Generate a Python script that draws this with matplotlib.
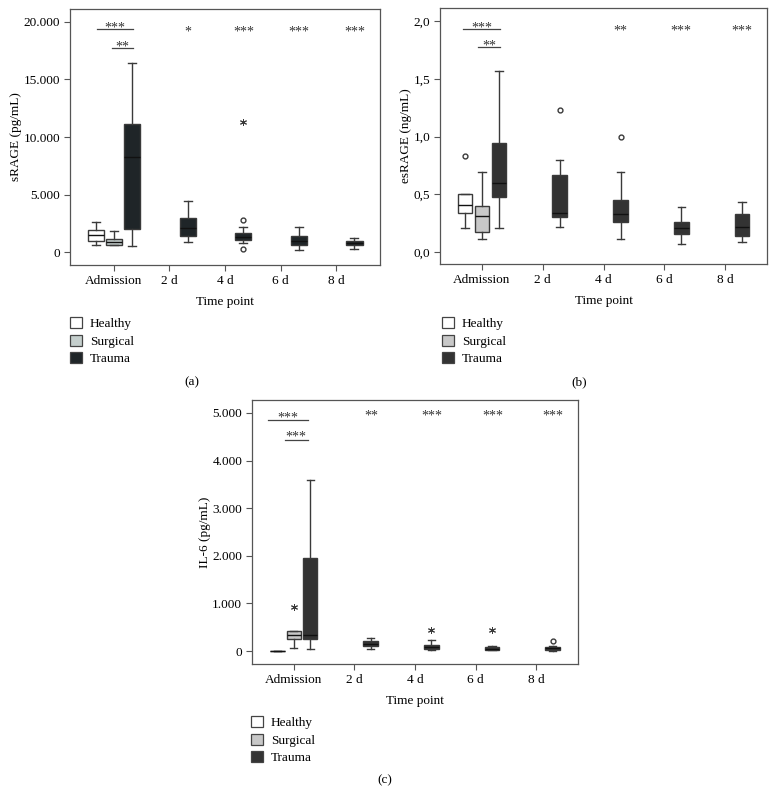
import numpy as np
import matplotlib
matplotlib.use("Agg")
from matplotlib import pyplot as plt
from matplotlib.patches import Patch

plt.rcParams["font.family"] = ["Liberation Serif", "DejaVu Serif"]

TIME_LABELS = ["Admission", "2 d", "4 d", "6 d", "8 d"]
GROUPS = ["Healthy", "Surgical", "Trauma"]

# box stats: [whislo, q1, med, q3, whishi]
# (a) sRAGE
A_HEALTHY = [600, 950, 1500, 1950, 2650]
A_SURGICAL = [600, 620, 850, 1100, 1800]
A_TRAUMA = [[520, 2000, 8250, 11100, 16450],
            [850, 1400, 2100, 3000, 4450],
            [750, 1050, 1300, 1650, 2150],
            [150, 650, 950, 1350, 2200],
            [250, 600, 750, 950, 1250]]
A_TRAUMA_OUT = [[], [], [2800, 250], [], []]
A_TRAUMA_EXT = [[], [], [11300], [], []]
A_SURG_EXT = []
A_TIME_SIG = ["", "*", "***", "***", "***"]
A_YTICKS = [0, 5000, 10000, 15000, 20000]
A_YTICKLABELS = ["0", "5.000", "10.000", "15.000", "20.000"]

# (b) esRAGE
B_HEALTHY = [0.21, 0.34, 0.41, 0.50, 0.50]
B_HEALTHY_OUT = [0.83]
B_SURGICAL = [0.11, 0.17, 0.31, 0.40, 0.69]
B_TRAUMA = [[0.21, 0.48, 0.60, 0.94, 1.57],
            [0.22, 0.30, 0.34, 0.67, 0.80],
            [0.11, 0.26, 0.33, 0.45, 0.69],
            [0.07, 0.16, 0.21, 0.26, 0.39],
            [0.09, 0.14, 0.22, 0.33, 0.43]]
B_TRAUMA_OUT = [[], [1.23], [1.00], [], []]
B_TRAUMA_EXT = [[], [], [], [], []]
B_SURG_EXT = []
B_TIME_SIG = ["", "", "**", "***", "***"]
B_YTICKS = [0.0, 0.5, 1.0, 1.5, 2.0]
B_YTICKLABELS = ["0,0", "0,5", "1,0", "1,5", "2,0"]

# (c) IL-6
C_HEALTHY = [5, 5, 5, 5, 5]
C_SURGICAL = [70, 260, 340, 410, 430]
C_SURG_EXT = [925]
C_TRAUMA = [[50, 260, 340, 1950, 3585],
            [42, 98, 154, 210, 273],
            [14, 35, 84, 133, 238],
            [14, 21, 49, 84, 98],
            [7, 21, 56, 91, 98]]
C_TRAUMA_OUT = [[], [], [], [], [205]]
C_TRAUMA_EXT = [[], [], [448], [434], []]
C_TIME_SIG = ["", "**", "***", "***", "***"]
C_YTICKS = [0, 1000, 2000, 3000, 4000, 5000]
C_YTICKLABELS = ["0", "1.000", "2.000", "3.000", "4.000", "5.000"]

EDGE = "#3a3a3a"
FS = 9.5
STAR_FS = 10


def stat(vals, fliers=()):
    lo, q1, med, q3, hi = vals
    return dict(whislo=lo, q1=q1, med=med, q3=q3, whishi=hi, fliers=list(fliers))


def draw_panel(ax, healthy, surgical, trauma, colors, offset, width,
               healthy_out=(), surg_ext=(), trauma_out=None, trauma_ext=None):
    stats = [stat(healthy, healthy_out), stat(surgical)]
    pos = [-offset, 0.0]
    fills = [colors[0], colors[1]]
    for i, t in enumerate(trauma):
        stats.append(stat(t, trauma_out[i]))
        pos.append(i + offset)
        fills.append(colors[2])
    bp = ax.bxp(stats, positions=pos, widths=width, capwidths=width * 0.5,
                patch_artist=True, showfliers=True,
                boxprops=dict(edgecolor=EDGE, linewidth=1.0),
                whiskerprops=dict(color=EDGE, linewidth=1.0),
                capprops=dict(color=EDGE, linewidth=1.0),
                medianprops=dict(color="#111111", linewidth=1.0),
                flierprops=dict(marker="o", markersize=3.5, markerfacecolor="white",
                                markeredgecolor=EDGE, markeredgewidth=1.0))
    for patch, c in zip(bp["boxes"], fills):
        patch.set_facecolor(c)
    # extreme values shown as asterisks
    for v in surg_ext:
        ax.plot(0.0, v, marker=(6, 2, 0), color=EDGE, markersize=5, mew=0.7, lw=0)
    for i, ext in enumerate(trauma_ext):
        for v in ext:
            ax.plot(i + offset, v, marker=(6, 2, 0), color=EDGE, markersize=5, mew=0.7, lw=0)


def style_axes(ax, yticks, yticklabels, ylim, xlim, ylabel):
    ax.set_xlim(*xlim)
    ax.set_ylim(*ylim)
    ax.set_xticks(range(len(TIME_LABELS)))
    ax.set_xticklabels(TIME_LABELS, fontsize=FS)
    ax.set_yticks(yticks)
    ax.set_yticklabels(yticklabels, fontsize=FS)
    ax.set_ylabel(ylabel, fontsize=FS, labelpad=1)
    ax.set_xlabel("Time point", fontsize=FS, labelpad=7)
    ax.tick_params(direction="out", length=4, width=0.8, color="#555555", pad=3)
    for s in ax.spines.values():
        s.set_color("#555555")
        s.set_linewidth(0.9)


def add_sig(ax, offset, time_sig, sig_y, lines):
    for i, s in enumerate(time_sig):
        if s:
            ax.text(i + offset, sig_y, s, ha="center", va="center", fontsize=STAR_FS, color="#333333")
    for x0, x1, yl, label, yt in lines:
        ax.plot([x0, x1], [yl, yl], color="#444444", lw=0.9)
        ax.text((x0 + x1) / 2, yt, label, ha="center", va="center", fontsize=STAR_FS, color="#333333")


def add_legend(fig, colors, x, y):
    handles = [Patch(facecolor=c, edgecolor="#444444", linewidth=0.9) for c in colors]
    fig.legend(handles, GROUPS, loc="upper left", bbox_to_anchor=(x, y),
               frameon=False, fontsize=FS, handlelength=0.9, handleheight=0.9,
               handletextpad=0.6, labelspacing=0.35, borderpad=0, borderaxespad=0)


W, H = 775, 793
fig = plt.figure(figsize=(W / 100, H / 100), dpi=100)


def px_axes(l, t, r, b):
    return fig.add_axes([l / W, 1 - b / H, (r - l) / W, (b - t) / H])


# (a)
col_a = ["white", "#c5cfcd", "#1f2528"]
ax_a = px_axes(70, 9, 380, 265)
draw_panel(ax_a, A_HEALTHY, A_SURGICAL, A_TRAUMA, col_a, 0.33, 0.29,
           surg_ext=A_SURG_EXT, trauma_out=A_TRAUMA_OUT, trauma_ext=A_TRAUMA_EXT)
style_axes(ax_a, A_YTICKS, A_YTICKLABELS, (-1130, 21130), (-0.79, 4.79), "sRAGE (pg/mL)")
add_sig(ax_a, 0.33, A_TIME_SIG, 19150,
        [(-0.31, 0.34, 19390, "***", 19500), (-0.04, 0.34, 17740, "**", 17850)])

# (b)
col_b = ["white", "#c8c8c8", "#333333"]
ax_b = px_axes(440, 8, 767, 264)
draw_panel(ax_b, B_HEALTHY, B_SURGICAL, B_TRAUMA, col_b, 0.28, 0.24,
           healthy_out=B_HEALTHY_OUT, surg_ext=B_SURG_EXT,
           trauma_out=B_TRAUMA_OUT, trauma_ext=B_TRAUMA_EXT)
style_axes(ax_b, B_YTICKS, B_YTICKLABELS, (-0.104, 2.113), (-0.69, 4.69), "esRAGE (ng/mL)")
add_sig(ax_b, 0.27, B_TIME_SIG, 1.915,
        [(-0.31, 0.30, 1.933, "***", 1.94), (-0.07, 0.30, 1.772, "**", 1.78)])

# (c)
col_c = ["white", "#c8c8c8", "#333333"]
ax_c = px_axes(252, 400, 578, 664)
draw_panel(ax_c, C_HEALTHY, C_SURGICAL, C_TRAUMA, col_c, 0.27, 0.24,
           surg_ext=C_SURG_EXT, trauma_out=C_TRAUMA_OUT, trauma_ext=C_TRAUMA_EXT)
style_axes(ax_c, C_YTICKS, C_YTICKLABELS, (-273, 5273), (-0.69, 4.69), "IL-6 (pg/mL)")
add_sig(ax_c, 0.28, C_TIME_SIG, 4940,
        [(-0.43, 0.23, 4845, "***", 4900), (-0.15, 0.23, 4433, "***", 4500)])

add_legend(fig, col_a, 70 / W, 1 - 317 / H)
add_legend(fig, col_b, 442 / W, 1 - 317 / H)
add_legend(fig, col_c, 251 / W, 1 - 716 / H)

fig.text(192 / W, 1 - 382 / H, "(a)", ha="center", va="center", fontsize=FS)
fig.text(579 / W, 1 - 382 / H, "(b)", ha="center", va="center", fontsize=FS)
fig.text(385 / W, 1 - 780 / H, "(c)", ha="center", va="center", fontsize=FS)

fig.savefig("out.png", dpi=100)
